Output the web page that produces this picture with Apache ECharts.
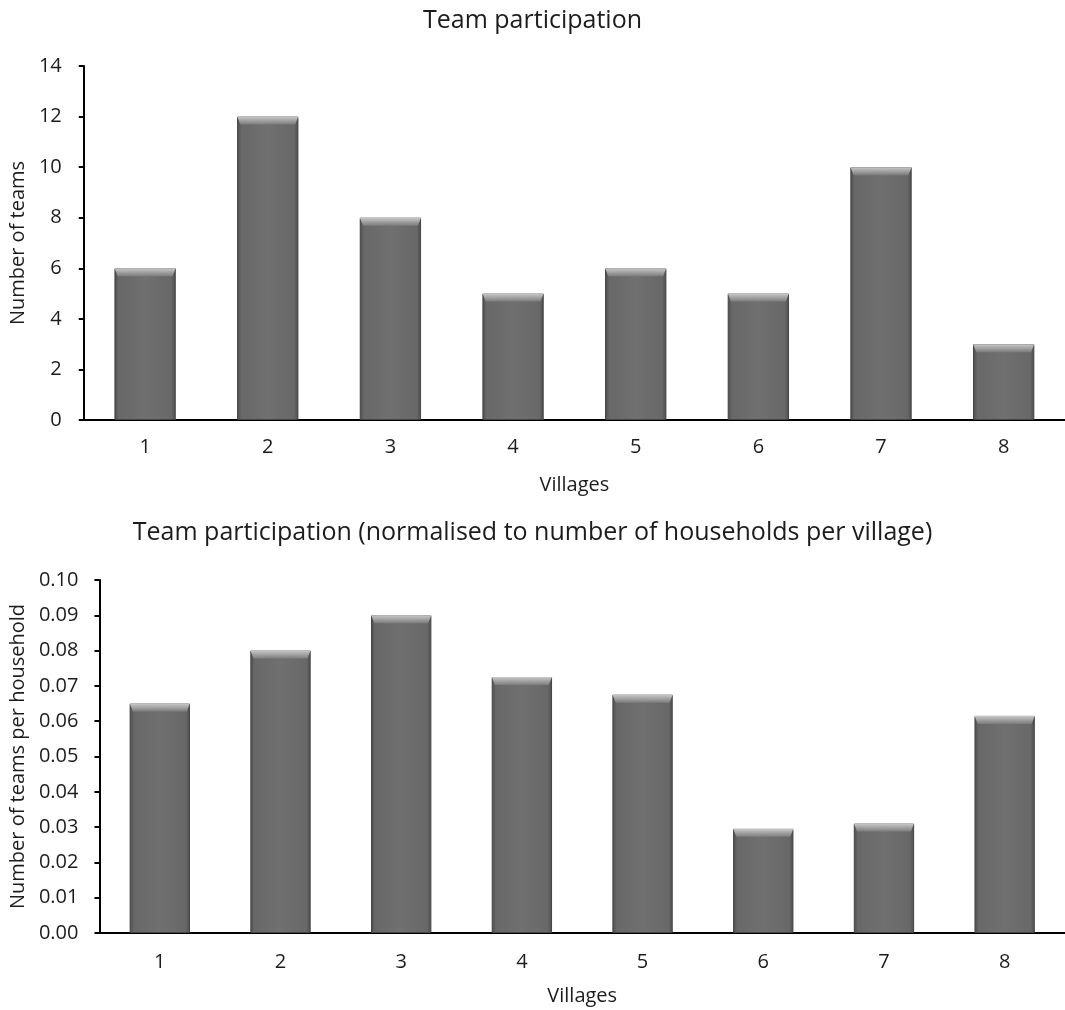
<!DOCTYPE html>
<html>
<head>
<meta charset="utf-8">
<script src="https://cdn.jsdelivr.net/npm/echarts@6/dist/echarts.min.js"></script>
<style>
html,body{margin:0;padding:0;background:#fff;}
#chart{width:1065px;height:1010px;}
</style>
</head>
<body>
<div id="chart"></div>
<script>
const villages = ['1','2','3','4','5','6','7','8'];
const teams = [6, 12, 8, 5, 6, 5, 10, 3];
const teamsPerHousehold = [0.065, 0.080, 0.090, 0.0725, 0.0675, 0.0295, 0.031, 0.0615];
const topTitle = 'Team participation';
const bottomTitle = 'Team participation (normalised to number of households per village)';

const FONT = '"Open Sans"';
const TXT = '#1c1c1c';

const face = {
  type: 'linear', x: 0, y: 0, x2: 1, y2: 0,
  colorStops: [
    {offset: 0, color: '#4c4c4c'},
    {offset: 0.07, color: '#686868'},
    {offset: 0.5, color: '#707070'},
    {offset: 0.93, color: '#686868'},
    {offset: 1, color: '#4c4c4c'}
  ]
};
const bevel = {
  type: 'linear', x: 0, y: 0, x2: 0, y2: 1,
  colorStops: [
    {offset: 0, color: '#c8c8c8'},
    {offset: 1, color: '#7c7c7c'}
  ]
};

function xAx(gi, margin, gap) {
  return {
    type: 'category', gridIndex: gi, data: villages,
    axisLine: {lineStyle: {color: '#000', width: 2}},
    axisTick: {show: false},
    axisLabel: {color: TXT, fontFamily: FONT, fontSize: 20, margin: margin},
    name: 'Villages', nameLocation: 'middle', nameGap: gap,
    nameTextStyle: {color: TXT, fontFamily: FONT, fontSize: 20}
  };
}
function yAx(gi, max, interval, name, gap, dec, margin) {
  return {
    type: 'value', gridIndex: gi, min: 0, max: max, interval: interval,
    axisLine: {show: true, lineStyle: {color: '#000', width: 2}},
    axisTick: {show: true, length: 5, lineStyle: {color: '#000', width: 2}},
    splitLine: {show: false},
    axisLabel: {color: TXT, fontFamily: FONT, fontSize: 20, margin: margin,
      formatter: v => v.toFixed(dec)},
    name: name, nameLocation: 'middle', nameGap: gap, nameRotate: 90,
    nameTextStyle: {color: TXT, fontFamily: FONT, fontSize: 20}
  };
}
function bars(gi, data, w) {
  return [{
    type: 'bar', xAxisIndex: gi, yAxisIndex: gi, data: data, barWidth: '50%',
    itemStyle: {color: face, borderColor: '#444', borderWidth: 1},
    silent: true
  }, {
    type: 'pictorialBar', xAxisIndex: gi, yAxisIndex: gi, data: data,
    symbol: 'path://M0,0 L20,0 L19,1 L1,1 Z', symbolKeepAspect: false,
    symbolSize: [w, 8], symbolPosition: 'end', symbolOffset: [0, 0],
    itemStyle: {color: bevel}, z: 3, silent: true
  }];
}

const chart = echarts.init(document.getElementById('chart'));
chart.setOption({
  animation: false,
  backgroundColor: '#fff',
  title: [
    {text: topTitle, left: 'center', top: 3,
      textStyle: {color: TXT, fontFamily: FONT, fontSize: 25, fontWeight: 'normal'}},
    {text: bottomTitle, left: 'center', top: 515,
      textStyle: {color: TXT, fontFamily: FONT, fontSize: 25, fontWeight: 'normal'}}
  ],
  grid: [
    {left: 82, right: 0, top: 66, height: 354},
    {left: 98, right: 0, top: 580, height: 353}
  ],
  xAxis: [xAx(0, 17, 55), xAx(1, 19, 53)],
  yAxis: [
    yAx(0, 14, 2, 'Number of teams', 55, 0, 22),
    yAx(1, 0.1, 0.01, 'Number of teams per household', 71, 2, 21)
  ],
  series: [...bars(0, teams, 61), ...bars(1, teamsPerHousehold, 60)]
});
</script>
</body>
</html>
